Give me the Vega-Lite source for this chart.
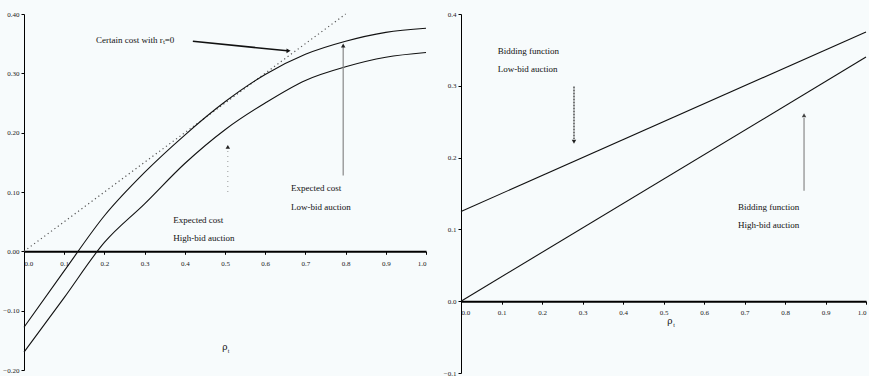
{
  "$schema": "https://vega.github.io/schema/vega-lite/v6.json",
  "background": "#f7fbfc",
  "padding": {"left": 2, "top": 10, "right": 0, "bottom": 0},
  "bounds": "flush",
  "spacing": 35,
  "config": {
    "view": {"stroke": null},
    "font": "Liberation Serif",
    "axis": {
      "labelFont": "Liberation Serif",
      "labelFontSize": 7,
      "labelColor": "#222",
      "domainColor": "#000",
      "tickColor": "#000",
      "tickSize": 3,
      "grid": false,
      "title": null
    }
  },
  "datasets": {
    "leftCurves": [
      {"x": 0.0, "y": -0.128, "series": "Expected cost, low-bid auction"},
      {"x": 0.1, "y": -0.033, "series": "Expected cost, low-bid auction"},
      {"x": 0.2, "y": 0.06, "series": "Expected cost, low-bid auction"},
      {"x": 0.3, "y": 0.133, "series": "Expected cost, low-bid auction"},
      {"x": 0.4, "y": 0.196, "series": "Expected cost, low-bid auction"},
      {"x": 0.5, "y": 0.252, "series": "Expected cost, low-bid auction"},
      {"x": 0.6, "y": 0.298, "series": "Expected cost, low-bid auction"},
      {"x": 0.7, "y": 0.332, "series": "Expected cost, low-bid auction"},
      {"x": 0.8, "y": 0.354, "series": "Expected cost, low-bid auction"},
      {"x": 0.9, "y": 0.369, "series": "Expected cost, low-bid auction"},
      {"x": 1.0, "y": 0.376, "series": "Expected cost, low-bid auction"},
      {"x": 0.0, "y": -0.17, "series": "Expected cost, high-bid auction"},
      {"x": 0.1, "y": -0.078, "series": "Expected cost, high-bid auction"},
      {"x": 0.2, "y": 0.015, "series": "Expected cost, high-bid auction"},
      {"x": 0.3, "y": 0.08, "series": "Expected cost, high-bid auction"},
      {"x": 0.4, "y": 0.148, "series": "Expected cost, high-bid auction"},
      {"x": 0.5, "y": 0.205, "series": "Expected cost, high-bid auction"},
      {"x": 0.6, "y": 0.25, "series": "Expected cost, high-bid auction"},
      {"x": 0.7, "y": 0.288, "series": "Expected cost, high-bid auction"},
      {"x": 0.8, "y": 0.311, "series": "Expected cost, high-bid auction"},
      {"x": 0.9, "y": 0.327, "series": "Expected cost, high-bid auction"},
      {"x": 1.0, "y": 0.335, "series": "Expected cost, high-bid auction"}
    ],
    "leftCertain": [
      {"x": 0.0, "y": 0.0},
      {"x": 0.8, "y": 0.4}
    ],
    "leftArrows": [
      {"kind": "certain", "x": 0.42, "y": 0.354, "x2": 0.655, "y2": 0.338},
      {"kind": "low", "x": 0.794, "y": 0.128, "x2": 0.794, "y2": 0.345},
      {"kind": "high", "x": 0.507, "y": 0.10, "x2": 0.507, "y2": 0.172}
    ],
    "leftHeads": [
      {"kind": "certain", "x": 0.658, "y": 0.338},
      {"kind": "low", "x": 0.794, "y": 0.347},
      {"kind": "high", "x": 0.507, "y": 0.176}
    ],
    "leftText": [
      {"x": 0.179, "y": 0.356, "label": "Certain cost with rₜ=0"},
      {"x": 0.664, "y": 0.106, "label": "Expected cost"},
      {"x": 0.664, "y": 0.075, "label": "Low-bid auction"},
      {"x": 0.371, "y": 0.052, "label": "Expected cost"},
      {"x": 0.371, "y": 0.022, "label": "High-bid auction"}
    ],
    "rightLines": [
      {"x": 0.0, "y": 0.125, "series": "Bidding function, low-bid auction"},
      {"x": 1.0, "y": 0.375, "series": "Bidding function, low-bid auction"},
      {"x": 0.0, "y": 0.0, "series": "Bidding function, high-bid auction"},
      {"x": 1.0, "y": 0.34, "series": "Bidding function, high-bid auction"}
    ],
    "rightArrows": [
      {"kind": "low", "x": 0.279, "y": 0.299, "x2": 0.279, "y2": 0.226},
      {"kind": "high", "x": 0.847, "y": 0.154, "x2": 0.847, "y2": 0.255}
    ],
    "rightHeads": [
      {"kind": "low", "x": 0.279, "y": 0.222},
      {"kind": "high", "x": 0.847, "y": 0.259}
    ],
    "rightText": [
      {"x": 0.091, "y": 0.349, "label": "Bidding function"},
      {"x": 0.091, "y": 0.324, "label": "Low-bid auction"},
      {"x": 0.684, "y": 0.131, "label": "Bidding function"},
      {"x": 0.684, "y": 0.106, "label": "High-bid auction"}
    ]
  },
  "resolve": {"scale": {"x": "independent", "y": "independent"}},
  "hconcat": [
    {
      "width": 402,
      "height": 356,
      "encoding": {
        "x": {"field": "x", "type": "quantitative",
          "scale": {"domain": [0, 1], "nice": false, "zero": false},
          "axis": {"values": [0, 0.1, 0.2, 0.3, 0.4, 0.5, 0.6, 0.7, 0.8, 0.9, 1.0], "format": ".1f", "offset": -118.7, "domainWidth": 2, "labelPadding": 5, "tickSize": 3}},
        "y": {"field": "y", "type": "quantitative",
          "scale": {"domain": [-0.2, 0.4], "nice": false, "zero": false},
          "axis": {"values": [-0.2, -0.1, 0, 0.1, 0.2, 0.3, 0.4], "format": ".2f", "labelPadding": 2}}
      },
      "layer": [
        {
          "data": {"name": "leftCertain"},
          "mark": {"type": "line", "color": "#555", "strokeWidth": 1.2, "strokeDash": [1.2, 3]}
        },
        {
          "data": {"name": "leftCurves"},
          "mark": {"type": "line", "color": "#111", "strokeWidth": 1.1, "interpolate": "monotone"},
          "encoding": {"detail": {"field": "series"}}
        },
        {
          "data": {"name": "leftArrows"},
          "transform": [{"filter": "datum.kind === 'certain'"}],
          "mark": {"type": "rule", "color": "#111", "strokeWidth": 1.6},
          "encoding": {"x2": {"field": "x2"}, "y2": {"field": "y2"}}
        },
        {
          "data": {"name": "leftArrows"},
          "transform": [{"filter": "datum.kind === 'low'"}],
          "mark": {"type": "rule", "color": "#888", "strokeWidth": 1.2},
          "encoding": {"x2": {"field": "x2"}, "y2": {"field": "y2"}}
        },
        {
          "data": {"name": "leftArrows"},
          "transform": [{"filter": "datum.kind === 'high'"}],
          "mark": {"type": "rule", "color": "#999", "strokeWidth": 1, "strokeDash": [1, 4]},
          "encoding": {"x2": {"field": "x2"}, "y2": {"field": "y2"}}
        },
        {
          "data": {"name": "leftHeads"},
          "transform": [{"filter": "datum.kind === 'certain'"}],
          "mark": {"type": "point", "shape": "triangle-right", "filled": true, "color": "#111", "size": 22, "opacity": 1}
        },
        {
          "data": {"name": "leftHeads"},
          "transform": [{"filter": "datum.kind !== 'certain'"}],
          "mark": {"type": "point", "shape": "triangle-up", "filled": true, "color": "#222", "size": 20, "opacity": 1}
        },
        {
          "data": {"name": "leftText"},
          "mark": {"type": "text", "align": "left", "baseline": "middle", "font": "Liberation Serif", "fontSize": 9, "color": "#111"},
          "encoding": {"text": {"field": "label"}}
        },
        {
          "data": {"values": [{"x": 0.5, "y": -0.162, "label": "ρ"}]},
          "mark": {"type": "text", "align": "center", "baseline": "middle", "font": "DejaVu Serif", "fontSize": 9, "color": "#111"},
          "encoding": {"text": {"field": "label"}}
        },
        {
          "data": {"values": [{"x": 0.507, "y": -0.168, "label": "t"}]},
          "mark": {"type": "text", "align": "left", "baseline": "middle", "font": "Liberation Serif", "fontSize": 6, "color": "#111"},
          "encoding": {"text": {"field": "label"}}
        }
      ]
    },
    {
      "width": 405,
      "height": 359,
      "encoding": {
        "x": {"field": "x", "type": "quantitative",
          "scale": {"domain": [0, 1], "nice": false, "zero": false},
          "axis": {"values": [0, 0.1, 0.2, 0.3, 0.4, 0.5, 0.6, 0.7, 0.8, 0.9, 1.0], "format": ".1f", "offset": -71.8, "domainWidth": 2, "labelPadding": 4, "tickSize": 3}},
        "y": {"field": "y", "type": "quantitative",
          "scale": {"domain": [-0.1, 0.4], "nice": false, "zero": false},
          "axis": {"values": [-0.1, 0, 0.1, 0.2, 0.3, 0.4], "format": ".1f", "labelPadding": 2}}
      },
      "layer": [
        {
          "data": {"name": "rightLines"},
          "mark": {"type": "line", "color": "#111", "strokeWidth": 1.1},
          "encoding": {"detail": {"field": "series"}}
        },
        {
          "data": {"name": "rightArrows"},
          "transform": [{"filter": "datum.kind === 'low'"}],
          "mark": {"type": "rule", "color": "#222", "strokeWidth": 1.2, "strokeDash": [2, 1]},
          "encoding": {"x2": {"field": "x2"}, "y2": {"field": "y2"}}
        },
        {
          "data": {"name": "rightArrows"},
          "transform": [{"filter": "datum.kind === 'high'"}],
          "mark": {"type": "rule", "color": "#888", "strokeWidth": 1.2},
          "encoding": {"x2": {"field": "x2"}, "y2": {"field": "y2"}}
        },
        {
          "data": {"name": "rightHeads"},
          "transform": [{"filter": "datum.kind === 'low'"}],
          "mark": {"type": "point", "shape": "triangle-down", "filled": true, "color": "#222", "size": 20, "opacity": 1}
        },
        {
          "data": {"name": "rightHeads"},
          "transform": [{"filter": "datum.kind === 'high'"}],
          "mark": {"type": "point", "shape": "triangle-up", "filled": true, "color": "#444", "size": 20, "opacity": 1}
        },
        {
          "data": {"name": "rightText"},
          "mark": {"type": "text", "align": "left", "baseline": "middle", "font": "Liberation Serif", "fontSize": 9, "color": "#111"},
          "encoding": {"text": {"field": "label"}}
        },
        {
          "data": {"values": [{"x": 0.516, "y": -0.028, "label": "ρ"}]},
          "mark": {"type": "text", "align": "center", "baseline": "middle", "font": "DejaVu Serif", "fontSize": 9, "color": "#111"},
          "encoding": {"text": {"field": "label"}}
        },
        {
          "data": {"values": [{"x": 0.524, "y": -0.033, "label": "t"}]},
          "mark": {"type": "text", "align": "left", "baseline": "middle", "font": "Liberation Serif", "fontSize": 6, "color": "#111"},
          "encoding": {"text": {"field": "label"}}
        }
      ]
    }
  ]
}
